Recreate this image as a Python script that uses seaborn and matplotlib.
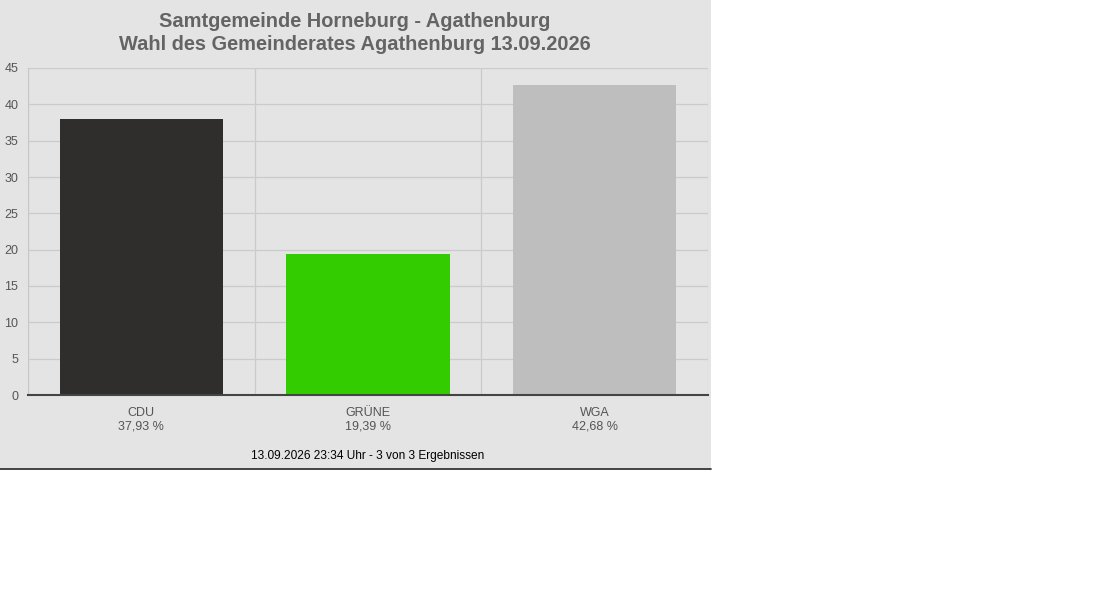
import matplotlib
matplotlib.use("Agg")
import matplotlib.pyplot as plt
import seaborn as sns
from matplotlib.patches import Rectangle
from matplotlib.lines import Line2D

parties = ["CDU", "GRÜNE", "WGA"]
shares = [37.93, 19.39, 42.68]
share_labels = ["37,93 %", "19,39 %", "42,68 %"]
colors = ["#302e2c", "#33cc00", "#bebebe"]
y_ticks = [0, 5, 10, 15, 20, 25, 30, 35, 40, 45]
title = "Samtgemeinde Horneburg - Agathenburg\nWahl des Gemeinderates Agathenburg 13.09.2026"
footer = "13.09.2026 23:34 Uhr - 3 von 3 Ergebnissen"

sns.set_style("white")
plt.rcParams["font.family"] = ["Liberation Sans", "DejaVu Sans"]

W, H = 1115, 616
fig = plt.figure(figsize=(W / 100, H / 100), dpi=100)
fig.patch.set_facecolor("white")

# grey panel holding the chart
fig.add_artist(Rectangle((0, 1 - 468 / H), 711 / W, 468 / H, transform=fig.transFigure,
                         facecolor="#e4e4e4", edgecolor="none", zorder=-10))
fig.add_artist(Line2D([0, 711 / W], [1 - 468.5 / H] * 2, transform=fig.transFigure,
                      color="#222222", lw=1.2))

ax = fig.add_axes([28 / W, 1 - 395 / H, 680 / W, 327 / H])
ax.set_facecolor("none")

sns.barplot(x=parties, y=shares, hue=parties, palette=colors, width=0.72,
            legend=False, saturation=1, ax=ax, zorder=3, edgecolor="none", linewidth=0)

ax.set_xlim(-0.5, 2.5)
ax.set_ylim(0, 45)
ax.set_yticks(y_ticks)
ax.set_xticks([0, 1, 2])
ax.set_xticklabels([f"{p}\n{s}" for p, s in zip(parties, share_labels)],
                   fontsize=9, color="#555555", linespacing=1.15)
ax.set_xticks([-0.5, 0.5, 1.5, 2.5], minor=True)
ax.tick_params(axis="x", which="major", length=0, pad=9)
ax.tick_params(axis="x", which="minor", length=9, color="#c8c8c8", width=1)
ax.tick_params(axis="y", length=5, color="#c8c8c8", labelsize=9, labelcolor="#555555", pad=2)

ax.grid(axis="y", color="#cbcbcb", lw=0.9, zorder=0)
ax.grid(axis="x", which="minor", color="#cbcbcb", lw=0.9, zorder=0)
ax.grid(axis="x", which="major", visible=False)

for side in ["top", "right"]:
    ax.spines[side].set_visible(False)
ax.spines["left"].set_color("#c8c8c8")
ax.spines["bottom"].set_color("#444444")
ax.spines["bottom"].set_linewidth(1.5)
ax.spines["bottom"].set_zorder(5)
ax.set_xlabel("")
ax.set_ylabel("")

fig.text(355 / W, 1 - 33 / H, title, ha="center", va="center", fontsize=14.4,
         fontweight="bold", color="#646464", linespacing=1.25)
fig.text(368 / W, 1 - 456 / H, footer, ha="center", va="center", fontsize=8.6, color="black")

fig.savefig("out.png", dpi=100, facecolor=fig.get_facecolor())
